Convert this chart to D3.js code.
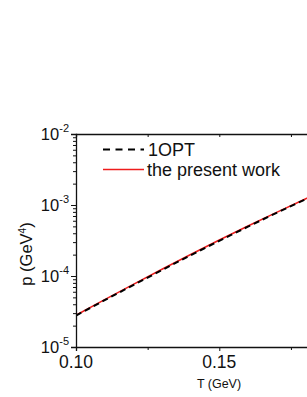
<!DOCTYPE html>
<html>
<head>
<meta charset="utf-8">
<script src="https://cdn.jsdelivr.net/npm/d3@7/dist/d3.min.js"></script>
<style>
html,body{margin:0;padding:0;background:#fff;overflow:hidden;}
text{font-family:"Liberation Sans",Arial,Helvetica,sans-serif;fill:#111;}
</style>
</head>
<body>
<svg id="chart" width="307" height="397"></svg>
<script>
// Data
const temperatures = [0.100, 0.110, 0.120, 0.130, 0.140, 0.150, 0.160, 0.170, 0.180, 0.190];
const presentWork = [2.80e-5, 4.65e-5, 7.64e-5, 1.245e-4, 2.01e-4, 3.21e-4, 5.06e-4, 7.89e-4, 1.216e-3, 1.85e-3];
const oneOPT      = [2.77e-5, 4.56e-5, 7.45e-5, 1.21e-4, 1.96e-4, 3.13e-4, 4.95e-4, 7.75e-4, 1.20e-3, 1.84e-3];
const xTickValues = [0.10, 0.15, 0.20];
const xTickLabels = ["0.10", "0.15"];
const xMinorTicks = [0.125, 0.175];
const yTickExponents = [-5, -4, -3, -2];
const seriesNames = ["1OPT", "the present work"];
const xTitle = "T (GeV)";

(function () {
const svg = d3.select("#chart");
const pLeft = 76, pRight = 362.6, pTop = 134, pBottom = 347;
const x = d3.scaleLinear().domain([0.10, 0.20]).range([pLeft, pRight]);
const y = d3.scaleLog().domain([1e-5, 1e-2]).range([pBottom, pTop]);

svg.append("defs").append("clipPath").attr("id", "plotclip")
  .append("rect").attr("x", pLeft).attr("y", pTop).attr("width", pRight - pLeft).attr("height", pBottom - pTop);

// Lines
const line = d3.line().x((d, i) => x(temperatures[i])).y(d => y(d)).curve(d3.curveMonotoneX);
const g = svg.append("g").attr("clip-path", "url(#plotclip)");
g.append("path").datum(presentWork).attr("d", line)
  .attr("fill", "none").attr("stroke", "#ee1c1c").attr("stroke-width", 1.5);
g.append("path").datum(oneOPT).attr("d", line)
  .attr("fill", "none").attr("stroke", "#000").attr("stroke-width", 2)
  .attr("stroke-dasharray", "6,4");

const axColor = "#111";
// bottom axis: ticks outward
svg.append("g").attr("transform", `translate(0,${pBottom})`)
  .call(d3.axisBottom(x).tickValues(xTickValues).tickSize(4).tickFormat(""));
svg.append("g").attr("transform", `translate(0,${pBottom})`)
  .call(d3.axisBottom(x).tickValues(xMinorTicks).tickSize(3).tickFormat(""))
  .select(".domain").remove();
// top axis: ticks inward
svg.append("g").attr("transform", `translate(0,${pTop})`)
  .call(d3.axisBottom(x).tickValues(xTickValues.concat(xMinorTicks)).tickSize(3).tickFormat(""));
// left axis: ticks outward
const majorY = yTickExponents.map(e => Math.pow(10, e));
const minorY = [];
for (let e = -5; e < -2; e++) for (let m = 2; m <= 9; m++) minorY.push(m * Math.pow(10, e));
svg.append("g").attr("transform", `translate(${pLeft},0)`)
  .call(d3.axisLeft(y).tickValues(majorY).tickSize(5).tickFormat(""));
svg.append("g").attr("transform", `translate(${pLeft},0)`)
  .call(d3.axisLeft(y).tickValues(minorY).tickSize(3).tickFormat(""))
  .select(".domain").remove();

svg.selectAll(".domain").attr("stroke", axColor).attr("stroke-width", 1.3);
svg.selectAll(".tick line").attr("stroke", axColor).attr("stroke-width", 1);

// Y tick labels 10^n
yTickExponents.forEach(e => {
  const t = svg.append("text").attr("x", 69).attr("y", y(Math.pow(10, e)) + 6)
    .attr("text-anchor", "end").style("font-size", "16.5px");
  t.append("tspan").text("10");
  t.append("tspan").attr("dy", -8).style("font-size", "11px").text(String(e));
});

// X tick labels
xTickLabels.forEach((lab, i) => {
  svg.append("text").attr("x", x(xTickValues[i])).attr("y", 368).attr("text-anchor", "middle")
    .style("font-size", "17.5px").text(lab);
});

// Axis titles
svg.append("text").attr("x", 219).attr("y", 388).attr("text-anchor", "middle")
  .style("font-size", "12.5px").text(xTitle);
const yt = svg.append("text").attr("transform", "translate(32,254) rotate(-90)")
  .attr("text-anchor", "middle").style("font-size", "16.5px");
yt.append("tspan").text("p (GeV");
yt.append("tspan").attr("dy", -6).style("font-size", "10px").text("4");
yt.append("tspan").attr("dy", 6).text(")");

// Legend
const legend = svg.append("g");
legend.append("line").attr("x1", 103).attr("x2", 144).attr("y1", 149.5).attr("y2", 149.5)
  .attr("stroke", "#000").attr("stroke-width", 2).attr("stroke-dasharray", "7,5.5");
legend.append("text").attr("x", 148).attr("y", 156).style("font-size", "18px").text(seriesNames[0]);
legend.append("line").attr("x1", 103).attr("x2", 144).attr("y1", 169.5).attr("y2", 169.5)
  .attr("stroke", "#ee1c1c").attr("stroke-width", 1.5);
legend.append("text").attr("x", 147).attr("y", 176).style("font-size", "18px").text(seriesNames[1]);
})();
</script>
</body>
</html>
